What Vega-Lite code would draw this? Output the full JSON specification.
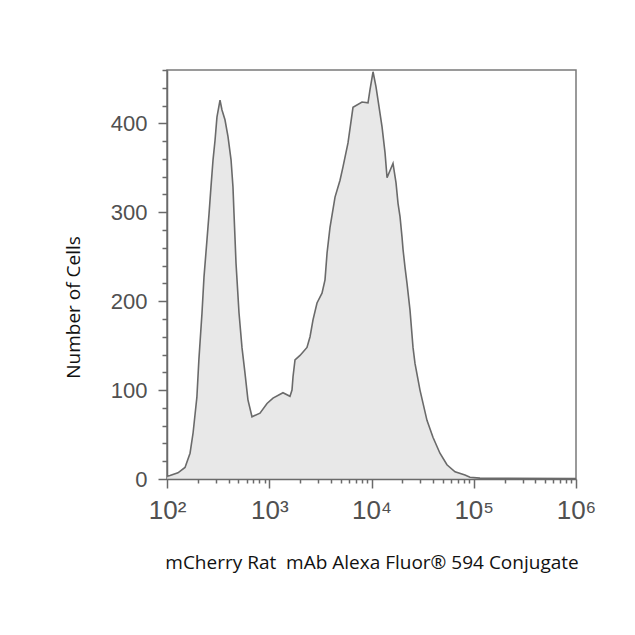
{
  "$schema": "https://vega.github.io/schema/vega-lite/v6.json",
  "autosize": {"type": "none"},
  "padding": {"left": 167, "top": 70, "right": 59, "bottom": 156},
  "width": 409,
  "height": 409,
  "background": "white",
  "config": {
    "view": {"stroke": "#7a7a7a", "strokeWidth": 1.5},
    "axis": {"domainColor": "#6a6a6a", "domainWidth": 1.5, "tickColor": "#6a6a6a", "tickWidth": 1.5, "grid": false, "labelColor": "#505050", "labelFont": "Liberation Sans", "titleColor": "#111111", "titleFont": "Open Sans", "titleFontWeight": "normal"}
  },
  "data": {"values": [
    {"intensity": 100, "cells": 3},
    {"intensity": 107, "cells": 4},
    {"intensity": 128, "cells": 7},
    {"intensity": 150, "cells": 13},
    {"intensity": 168, "cells": 29},
    {"intensity": 180, "cells": 52},
    {"intensity": 196, "cells": 92},
    {"intensity": 205, "cells": 134},
    {"intensity": 220, "cells": 187},
    {"intensity": 230, "cells": 227},
    {"intensity": 246, "cells": 269},
    {"intensity": 258, "cells": 299},
    {"intensity": 269, "cells": 328},
    {"intensity": 282, "cells": 359},
    {"intensity": 295, "cells": 381},
    {"intensity": 308, "cells": 407},
    {"intensity": 330, "cells": 426},
    {"intensity": 345, "cells": 415},
    {"intensity": 369, "cells": 404},
    {"intensity": 395, "cells": 385},
    {"intensity": 423, "cells": 359},
    {"intensity": 442, "cells": 328},
    {"intensity": 452, "cells": 299},
    {"intensity": 462, "cells": 272},
    {"intensity": 473, "cells": 243},
    {"intensity": 484, "cells": 224},
    {"intensity": 506, "cells": 187},
    {"intensity": 541, "cells": 148},
    {"intensity": 579, "cells": 119},
    {"intensity": 619, "cells": 89},
    {"intensity": 678, "cells": 70},
    {"intensity": 812, "cells": 74},
    {"intensity": 951, "cells": 85},
    {"intensity": 1088, "cells": 91},
    {"intensity": 1362, "cells": 97},
    {"intensity": 1595, "cells": 93},
    {"intensity": 1669, "cells": 100},
    {"intensity": 1708, "cells": 115},
    {"intensity": 1786, "cells": 134},
    {"intensity": 1999, "cells": 139},
    {"intensity": 2339, "cells": 148},
    {"intensity": 2505, "cells": 160},
    {"intensity": 2679, "cells": 179},
    {"intensity": 2931, "cells": 198},
    {"intensity": 3280, "cells": 209},
    {"intensity": 3510, "cells": 224},
    {"intensity": 3675, "cells": 254},
    {"intensity": 3928, "cells": 283},
    {"intensity": 4398, "cells": 317},
    {"intensity": 4922, "cells": 336},
    {"intensity": 5263, "cells": 351},
    {"intensity": 5891, "cells": 378},
    {"intensity": 6593, "cells": 418},
    {"intensity": 8075, "cells": 424},
    {"intensity": 9245, "cells": 423},
    {"intensity": 9670, "cells": 438},
    {"intensity": 10350, "cells": 458},
    {"intensity": 11070, "cells": 441},
    {"intensity": 11580, "cells": 426},
    {"intensity": 12680, "cells": 396},
    {"intensity": 13560, "cells": 367},
    {"intensity": 14190, "cells": 339},
    {"intensity": 15180, "cells": 347},
    {"intensity": 16230, "cells": 355},
    {"intensity": 17370, "cells": 333},
    {"intensity": 18170, "cells": 310},
    {"intensity": 19010, "cells": 295},
    {"intensity": 19880, "cells": 272},
    {"intensity": 20350, "cells": 258},
    {"intensity": 21270, "cells": 238},
    {"intensity": 22250, "cells": 220},
    {"intensity": 23800, "cells": 190},
    {"intensity": 25470, "cells": 148},
    {"intensity": 26630, "cells": 130},
    {"intensity": 29800, "cells": 100},
    {"intensity": 34880, "cells": 66},
    {"intensity": 39910, "cells": 47},
    {"intensity": 46720, "cells": 29},
    {"intensity": 54700, "cells": 16},
    {"intensity": 65600, "cells": 8},
    {"intensity": 82100, "cells": 4.5},
    {"intensity": 91800, "cells": 2},
    {"intensity": 115000, "cells": 1},
    {"intensity": 1000000, "cells": 0.5}
  ]},
  "mark": {"type": "area", "color": "#dedede", "interpolate": "linear", "line": {"color": "#6a6a6a", "strokeWidth": 1.6}},
  "encoding": {
    "x": {
      "field": "intensity", "type": "quantitative",
      "scale": {"type": "log", "domain": [100, 1000000], "nice": false},
      "axis": {
        "title": "mCherry Rat\u00a0 mAb Alexa Fluor® 594 Conjugate",
        "titleFontSize": 19,
        "titleY": 83,
        "titleBaseline": "middle",
        "values": [100,200,300,400,500,600,700,800,900,1000,2000,3000,4000,5000,6000,7000,8000,9000,10000,20000,30000,40000,50000,60000,70000,80000,90000,100000,200000,300000,400000,500000,600000,700000,800000,900000,1000000],
        "labelExpr": "datum.value == 100 ? '10²' : datum.value == 1000 ? '10³' : datum.value == 10000 ? '10⁴' : datum.value == 100000 ? '10⁵' : datum.value == 1000000 ? '10⁶' : ''",
        "labelFontSize": 26,
        "labelPadding": 9,
        "labelFlush": false,
        "labelOverlap": false,
        "tickSize": {"condition": {"test": "indexof([100,1000,10000,100000,1000000], datum.value) >= 0", "value": 9}, "value": 4}
      }
    },
    "y": {
      "field": "cells", "type": "quantitative",
      "scale": {"domain": [0, 460], "nice": false},
      "axis": {
        "title": "Number of Cells",
        "titleFontSize": 19,
        "titleX": -94,
        "titleY": 237,
        "titleAlign": "center",
        "titleBaseline": "middle",
        "values": [0,20,40,60,80,100,120,140,160,180,200,220,240,260,280,300,320,340,360,380,400,420,440,460],
        "labelExpr": "datum.value % 100 === 0 ? datum.label : ''",
        "labelFontSize": 22,
        "labelPadding": 11,
        "labelOverlap": false,
        "labelFlush": false,
        "tickSize": {"condition": {"test": "datum.value % 100 === 0", "value": 9}, "value": 5}
      }
    }
  }
}
